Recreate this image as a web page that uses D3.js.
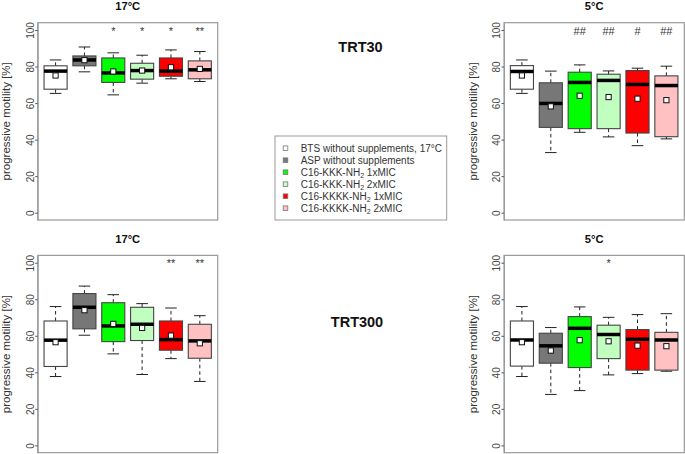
<!DOCTYPE html>
<html>
<head>
<meta charset="utf-8">
<script src="https://cdn.jsdelivr.net/npm/d3@7"></script>
<style>
  html, body { margin: 0; padding: 0; background: #fff; }
  svg { display: block; font-family: "Liberation Sans", Arial, sans-serif; }
</style>
</head>
<body>
<svg id="chart" width="685" height="454"></svg>
<script>
// ---------- data ----------
const groups = ["BTS without supplements, 17°C", "ASP without supplements", "C16-KKK-NH2 1xMIC", "C16-KKK-NH2 2xMIC", "C16-KKKK-NH2 1xMIC", "C16-KKKK-NH2 2xMIC"];
const colors = ["#ffffff", "#777777", "#00ff00", "#c1ffc1", "#ff0000", "#ffc1c1"];
const yTicks = [0, 20, 40, 60, 80, 100];
const panelTitles = ["17°C", "5°C", "17°C", "5°C"];
const rowLabels = ["TRT30", "TRT300"];

// TRT30, 17°C
const trt30_17_lo   = [65.3, 77.1, 64.5, 70.9, 73.3, 71.8];
const trt30_17_q1   = [67.6, 80.4, 71.3, 73.1, 74.7, 73.3];
const trt30_17_med  = [77.5, 83.6, 76.5, 77.8, 77.5, 78.2];
const trt30_17_q3   = [80.4, 85.8, 84.7, 81.8, 84.7, 83.1];
const trt30_17_hi   = [83.6, 90.7, 87.5, 86.2, 89.1, 88.2];
const trt30_17_mean = [75.1, 83.5, 77.3, 77.8, 79.6, 78.7];
const trt30_17_sig  = ["", "", "*", "*", "*", "**"];

// TRT30, 5°C
const trt30_5_lo   = [65.3, 32.9, 44.0, 41.5, 36.7, 40.4];
const trt30_5_q1   = [67.6, 46.7, 46.0, 46.0, 43.6, 41.6];
const trt30_5_med  = [77.3, 59.8, 71.3, 72.4, 70.2, 69.6];
const trt30_5_q3   = [80.5, 71.1, 76.9, 75.8, 77.8, 74.9];
const trt30_5_hi   = [83.6, 77.5, 80.9, 77.6, 79.1, 80.2];
const trt30_5_mean = [75.1, 58.2, 64.0, 63.3, 62.4, 61.6];
const trt30_5_sig  = ["", "", "##", "##", "#", "##"];

// TRT300, 17°C
const trt300_17_lo   = [37.7, 60.3, 50.1, 38.8, 47.5, 35.0];
const trt300_17_q1   = [43.2, 63.8, 56.8, 57.4, 52.1, 47.7];
const trt300_17_med  = [57.6, 75.6, 65.4, 66.3, 57.9, 57.2];
const trt300_17_q3   = [68.1, 83.1, 78.1, 75.6, 68.1, 66.3];
const trt300_17_hi   = [76.0, 87.2, 82.5, 77.6, 75.2, 71.0];
const trt300_17_mean = [56.5, 74.0, 66.5, 64.3, 60.1, 55.9];
const trt300_17_sig  = ["", "", "", "", "**", "**"];

// TRT300, 5°C
const trt300_5_lo   = [37.7, 27.9, 30.0, 38.6, 39.3, 40.6];
const trt300_5_q1   = [43.4, 45.0, 42.6, 47.5, 41.2, 41.2];
const trt300_5_med  = [57.7, 54.5, 64.1, 60.7, 58.1, 57.7];
const trt300_5_q3   = [68.1, 61.4, 70.5, 65.8, 63.4, 61.9];
const trt300_5_hi   = [76.0, 64.5, 75.8, 70.1, 71.6, 72.1];
const trt300_5_mean = [56.5, 51.9, 57.6, 57.0, 54.6, 54.3];
const trt300_5_sig  = ["", "", "", "*", "", ""];

// ---------- layout ----------
const svg = d3.select("#chart");
const panels = [
  { x0: 37.7, x1: 217.7, y0: 22.7, y1: 220.0, lo: trt30_17_lo, q1: trt30_17_q1, med: trt30_17_med, q3: trt30_17_q3, hi: trt30_17_hi, mean: trt30_17_mean, sig: trt30_17_sig },
  { x0: 504.0, x1: 684.3, y0: 22.7, y1: 220.0, lo: trt30_5_lo, q1: trt30_5_q1, med: trt30_5_med, q3: trt30_5_q3, hi: trt30_5_hi, mean: trt30_5_mean, sig: trt30_5_sig },
  { x0: 37.7, x1: 217.7, y0: 255.4, y1: 452.7, lo: trt300_17_lo, q1: trt300_17_q1, med: trt300_17_med, q3: trt300_17_q3, hi: trt300_17_hi, mean: trt300_17_mean, sig: trt300_17_sig },
  { x0: 504.0, x1: 684.3, y0: 255.4, y1: 452.7, lo: trt300_5_lo, q1: trt300_5_q1, med: trt300_5_med, q3: trt300_5_q3, hi: trt300_5_hi, mean: trt300_5_mean, sig: trt300_5_sig }
];

const textCol = "#333";
const frameCol = "#9a9a9a";

panels.forEach((p, pi) => {
  const g = svg.append("g");
  const n = groups.length;
  const x = d3.scaleLinear().domain([0.5 - 0.04 * n / 2 * 1.0 - 0.0, n + 0.5 + 0.12]).range([p.x0, p.x1]);
  // R: xlim c(0.5, n+0.5) extended by 4%
  x.domain([0.5 - 0.04 * n / 2, n + 0.5 + 0.04 * n / 2]);
  const y = d3.scaleLinear().domain([-4, 104]).range([p.y1, p.y0]);
  const bw = 0.8, cap = 0.4;

  // frame
  g.append("rect").attr("x", p.x0).attr("y", p.y0)
    .attr("width", p.x1 - p.x0).attr("height", p.y1 - p.y0)
    .attr("fill", "none").attr("stroke", frameCol).attr("stroke-width", 1.2);

  // y axis
  const ax = g.append("g").attr("transform", `translate(${p.x0},0)`)
    .call(d3.axisLeft(y).tickValues(yTicks).tickSize(2.5).tickSizeOuter(0));
  ax.select(".domain").attr("stroke", frameCol);
  ax.selectAll(".tick line").attr("stroke", "#555");
  ax.selectAll(".tick text")
    .attr("x", null).attr("dy", null)
    .attr("transform", "translate(-4,0) rotate(-90)")
    .attr("text-anchor", "middle")
    .attr("font-size", 10).attr("fill", "#444")
    .attr("font-family", "Liberation Sans, Arial, sans-serif");

  // y label
  const cy = (p.y0 + p.y1) / 2;
  g.append("text")
    .attr("transform", `translate(${p.x0 - 27.3},${cy}) rotate(-90)`)
    .attr("text-anchor", "middle").attr("font-size", 11.5).attr("fill", textCol)
    .text("progressive motility [%]");

  // title
  g.append("text").attr("x", (p.x0 + p.x1) / 2).attr("y", p.y0 - 12.7)
    .attr("text-anchor", "middle").attr("font-size", 11.2).attr("font-weight", "bold")
    .attr("fill", "#111").text(panelTitles[pi]);

  // boxes
  d3.range(n).forEach(i => {
    const cx = x(i + 1);
    // whiskers (dashed)
    g.append("line").attr("x1", cx).attr("x2", cx).attr("y1", y(p.q3[i])).attr("y2", y(p.hi[i]))
      .attr("stroke", "#222").attr("stroke-width", 1).attr("stroke-dasharray", "3.5,3");
    g.append("line").attr("x1", cx).attr("x2", cx).attr("y1", y(p.q1[i])).attr("y2", y(p.lo[i]))
      .attr("stroke", "#222").attr("stroke-width", 1).attr("stroke-dasharray", "3.5,3");
    // caps
    [p.hi[i], p.lo[i]].forEach(v => {
      g.append("line").attr("x1", x(i + 1 - cap / 2)).attr("x2", x(i + 1 + cap / 2))
        .attr("y1", y(v)).attr("y2", y(v)).attr("stroke", "#222").attr("stroke-width", 1);
    });
    // box
    g.append("rect").attr("x", x(i + 1 - bw / 2)).attr("y", y(p.q3[i]))
      .attr("width", x(i + 1 + bw / 2) - x(i + 1 - bw / 2))
      .attr("height", y(p.q1[i]) - y(p.q3[i]))
      .attr("fill", colors[i]).attr("stroke", "#444").attr("stroke-width", 1.1);
    // median
    g.append("line").attr("x1", x(i + 1 - bw / 2)).attr("x2", x(i + 1 + bw / 2))
      .attr("y1", y(p.med[i])).attr("y2", y(p.med[i]))
      .attr("stroke", "#000").attr("stroke-width", 3.5);
    // mean
    g.append("rect").attr("x", cx - 2.6).attr("y", y(p.mean[i]) - 2.6)
      .attr("width", 5.2).attr("height", 5.2)
      .attr("fill", "#fff").attr("stroke", "#111").attr("stroke-width", 1);
    // significance
    if (p.sig[i]) {
      g.append("text").attr("x", cx).attr("y", y(100) + 4.5)
        .attr("text-anchor", "middle").attr("font-size", 11).attr("fill", textCol)
        .text(p.sig[i]);
    }
  });
});

// row labels
svg.append("text").attr("x", 360.5).attr("y", 52).attr("text-anchor", "middle")
  .attr("font-size", 14.5).attr("font-weight", "bold").attr("fill", "#111").text(rowLabels[0]);
svg.append("text").attr("x", 357).attr("y", 327).attr("text-anchor", "middle")
  .attr("font-size", 14.5).attr("font-weight", "bold").attr("fill", "#111").text(rowLabels[1]);

// legend
const lg = svg.append("g");
lg.append("rect").attr("x", 275).attr("y", 136).attr("width", 171.7).attr("height", 84)
  .attr("fill", "#fff").attr("stroke", frameCol).attr("stroke-width", 1);
groups.forEach((name, i) => {
  const cyL = 148.2 + i * 12;
  lg.append("rect").attr("x", 283.2).attr("y", cyL - 2.3).attr("width", 4.6).attr("height", 4.6)
    .attr("fill", colors[i]).attr("stroke", "#777").attr("stroke-width", 0.8);
  const t = lg.append("text").attr("x", 300.7).attr("y", cyL + 3.6)
    .attr("font-size", 10).attr("fill", textCol);
  const m = name.match(/^(.*NH)2(.*)$/);
  if (m) {
    t.append("tspan").text(m[1]);
    t.append("tspan").attr("font-size", 7).attr("dy", 2.5).text("2");
    t.append("tspan").attr("dy", -2.5).text(m[2]);
  } else {
    t.text(name);
  }
});
</script>
</body>
</html>
